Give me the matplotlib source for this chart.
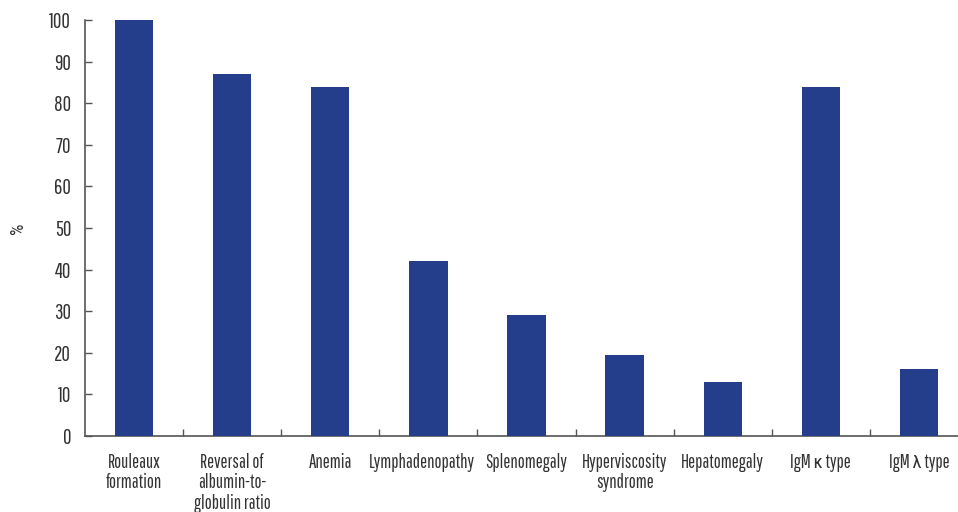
import numpy as np
import matplotlib
matplotlib.use("Agg")
import matplotlib.pyplot as plt
import matplotlib.transforms as mtransforms

categories = ["Rouleaux\nformation", "Reversal of\nalbumin-to-\nglobulin ratio", "Anemia",
              "Lymphadenopathy", "Splenomegaly", "Hyperviscosity\nsyndrome", "Hepatomegaly",
              "IgM \u03ba type", "IgM \u03bb type"]
percent = [100, 87, 84, 42, 29, 19.5, 13, 84, 16]
y_ticks = list(range(0, 101, 10))

plt.rcParams['font.family'] = ['Pathway Gothic One', 'Roboto Condensed', 'DejaVu Sans']

W, H = 958, 512
fig = plt.figure(figsize=(W / 100, H / 100), dpi=100)
# axis runs a bit past the right edge, like the source image
ax = fig.add_axes([85 / W, (H - 436) / H, (968 - 85) / W, (436 - 20) / H])

x = np.arange(len(categories))
ax.bar(x, percent, width=0.39, color='#243e8c', zorder=3)

ax.set_xlim(-0.5, len(categories) - 0.5)
ax.set_ylim(0, 100)
ax.set_yticks(y_ticks)
ax.set_xticks(x)
labels = ax.set_xticklabels(categories, fontsize=13.5, color='#333333', va='top', linespacing=1.1)
ax.set_xticks(x[:-1] + 0.5, minor=True)
ax.tick_params(axis='x', which='major', length=0, pad=12)
ax.tick_params(axis='x', which='minor', direction='in', length=5, width=1, color='#555555')
ax.tick_params(axis='y', direction='in', length=5, width=1, color='#555555',
               labelsize=15, labelcolor='#333333', pad=10)

# the long one-word label sits a little left of its bar in the original
labels[3].set_transform(labels[3].get_transform() +
                        mtransforms.ScaledTranslation(-7 / 100, 0, fig.dpi_scale_trans))

for side in ['top', 'right']:
    ax.spines[side].set_visible(False)
for side in ['left', 'bottom']:
    ax.spines[side].set_color('#555555')
    ax.spines[side].set_linewidth(1.2)

fig.text(18 / W, 1 - 228 / H, '%', rotation=90, ha='center', va='center',
         fontsize=13, color='#333333', family=['Roboto Condensed', 'DejaVu Sans'])

fig.savefig('out.png', dpi=100)
